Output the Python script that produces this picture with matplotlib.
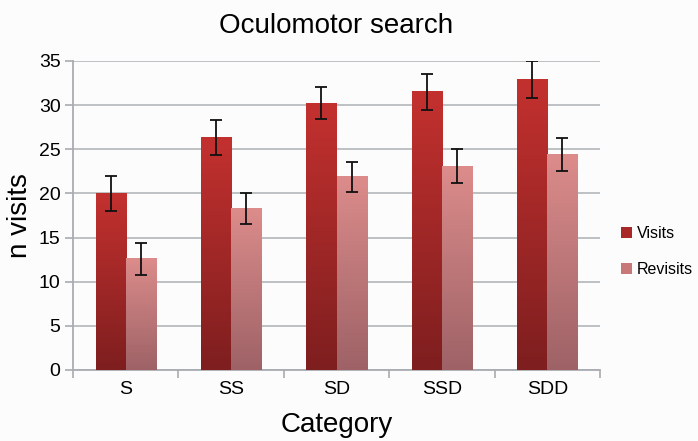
import numpy as np
import matplotlib.pyplot as plt
from matplotlib.colors import LinearSegmentedColormap
from matplotlib.patches import Patch

plt.rcParams['font.family'] = ['Liberation Sans', 'DejaVu Sans']

categories = ["S", "SS", "SD", "SSD", "SDD"]
visits = [20.0, 26.3, 30.2, 31.5, 32.9]
visits_err = [2.0, 2.0, 1.8, 2.0, 2.1]
revisits = [12.6, 18.3, 21.9, 23.1, 24.4]
revisits_err = [1.8, 1.8, 1.7, 1.9, 1.9]

visit_cmap = LinearSegmentedColormap.from_list("v", ["#7e1e1f", "#c3312f"])
revisit_cmap = LinearSegmentedColormap.from_list("r", ["#9e6266", "#dc8c8b"])

fig = plt.figure(figsize=(6.98, 4.41), dpi=100)
fig.patch.set_facecolor("#fdfcfc")
ax = fig.add_axes([0.1046, 0.161, 0.755, 0.7007])
ax.set_facecolor("#fdfcfc")

x = np.arange(len(categories))
w = 0.286

b1 = ax.bar(x - w / 2, visits, w, color="none", zorder=3)
b2 = ax.bar(x + w / 2, revisits, w, color="none", zorder=3)

# vertical gradient fill for each bar
grad = np.linspace(0, 1, 256).reshape(-1, 1)
for bars, cmap in ((b1, visit_cmap), (b2, revisit_cmap)):
    for p in bars:
        x0, y0 = p.get_x(), p.get_y()
        ax.imshow(grad, cmap=cmap, origin="lower", aspect="auto",
                  extent=(x0, x0 + p.get_width(), y0, y0 + p.get_height()),
                  zorder=3)

ax.errorbar(x - w / 2, visits, yerr=visits_err, fmt="none", ecolor="#111111",
            elinewidth=1.3, capsize=4, capthick=1.3, zorder=4)
ax.errorbar(x + w / 2, revisits, yerr=revisits_err, fmt="none", ecolor="#111111",
            elinewidth=1.3, capsize=4, capthick=1.3, zorder=4)

ax.set_xlim(-0.5, len(categories) - 0.5)
ax.set_ylim(0, 35)
ax.set_yticks(range(0, 36, 5))
ax.yaxis.grid(True, color="#b8bcc0", linewidth=1.3, zorder=0)
ax.set_axisbelow(True)

ax.set_xticks(x)
ax.set_xticklabels(categories, fontsize=14)
ax.tick_params(axis="x", length=0, pad=8)
ax.set_xticks(np.arange(-0.5, len(categories)), minor=True)
ax.tick_params(axis="x", which="minor", length=6, color="#a8acb0", width=1.2)
ax.tick_params(axis="y", labelsize=14, length=6, color="#a8acb0", width=1.2, pad=3)

for s in ("top", "right"):
    ax.spines[s].set_visible(False)
for s in ("left", "bottom"):
    ax.spines[s].set_color("#a8acb0")
    ax.spines[s].set_linewidth(1.3)

ax.set_title("Oculomotor search", fontsize=20, pad=20)
ax.set_ylabel("n visits", fontsize=20, labelpad=4)
ax.set_xlabel("Category", fontsize=20, labelpad=10)

handles = [Patch(facecolor="#a82828", label="Visits"),
           Patch(facecolor="#c87878", label="Revisits")]
fig.legend(handles=handles, loc="center left", bbox_to_anchor=(0.889, 0.43),
           frameon=False, fontsize=11.5, handlelength=0.7, handleheight=0.7,
           handletextpad=0.3, labelspacing=1.3, borderaxespad=0, borderpad=0)

fig.savefig("out.png", dpi=100, facecolor=fig.get_facecolor())
